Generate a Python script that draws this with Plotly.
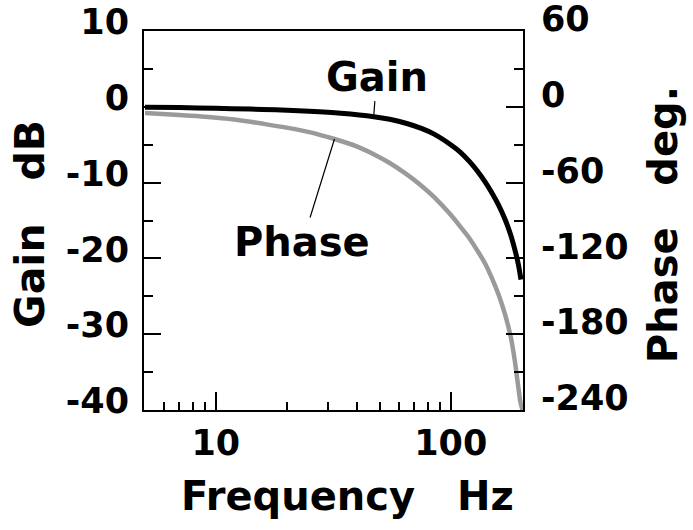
import numpy as np
import plotly.graph_objects as go

# ---- data ----
freq_gain = [5, 7, 10, 14, 18, 25, 34, 47, 55, 65, 75, 85, 100, 110, 120, 130, 140, 150, 160, 170,
             180, 188, 194, 199]
gain_db = [-0.05, -0.1, -0.2, -0.3, -0.4, -0.6, -0.86, -1.3, -1.65, -2.2, -2.85, -3.6, -5.0, -6.0,
           -7.2, -8.5, -9.9, -11.4, -13.0, -14.8, -16.9, -19.0, -20.8, -22.8]

freq_phase = [5, 7, 9, 12, 16, 20, 25, 32, 40, 47, 55, 65, 75, 85, 100, 110, 120, 130, 140, 150,
              160, 170, 180, 187, 193, 198, 202]
phase_deg = [-5, -6.5, -7.8, -10, -13.5, -16.5, -20, -25.5, -31.5, -37.5, -44.5, -53.5, -62.5, -71.5,
             -85.5, -95, -104, -114, -124, -136, -149, -164, -182, -200, -219, -234, -240]

x_major = [10, 100]
x_major_text = ["10", "100"]
x_minor = [6, 7, 8, 9, 20, 30, 40, 50, 60, 70, 80, 90]
gain_major = [-40, -30, -20, -10, 0, 10]
gain_major_text = ["-40", "-30", "-20", "-10", "0", "10"]
gain_minor = [-35, -25, -15, -5, 5]
phase_major = [-240, -180, -120, -60, 0, 60]
phase_major_text = ["-240", "-180", "-120", "-60", "0", "60"]
phase_minor = [-210, -150, -90, -30, 30]

FONT = "DejaVu Sans"

fig = go.Figure()
fig.add_trace(go.Scatter(x=freq_phase, y=phase_deg, yaxis="y2", mode="lines",
                         line=dict(color="#9a9a9a", width=4.5, shape="spline", smoothing=0.8),
                         showlegend=False))
fig.add_trace(go.Scatter(x=freq_gain, y=gain_db, mode="lines",
                         line=dict(color="black", width=5, shape="spline", smoothing=0.8),
                         showlegend=False))

axis_common = dict(showgrid=False, zeroline=False, showline=True, linecolor="black", linewidth=2,
                   ticks="inside", tickcolor="black", tickwidth=2, automargin=False,
                   ticklabeloverflow="allow",
                   tickfont=dict(family=FONT, size=35, color="black", weight="bold"))

fig.update_layout(
    width=693, height=530,
    margin=dict(l=144, r=170, t=31, b=120),
    paper_bgcolor="white", plot_bgcolor="white",
    font=dict(family=FONT, color="black", weight="bold"),
    xaxis=dict(type="log", range=[np.log10(4.95), np.log10(203)], tickmode="array",
               tickvals=x_major, ticktext=x_major_text, ticklen=18, mirror=True,
               ticklabelstandoff=1,
               minor=dict(tickmode="array", tickvals=x_minor, ticks="inside", ticklen=8,
                          tickwidth=2, tickcolor="black", showgrid=False),
               **axis_common),
    yaxis=dict(range=[-40, 10], tickmode="array", tickvals=gain_major, ticktext=gain_major_text,
               ticklen=17, ticklabelstandoff=6, ticklabelshift=-9,
               minor=dict(tickmode="array", tickvals=gain_minor, ticks="inside", ticklen=9,
                          tickwidth=2, tickcolor="black", showgrid=False),
               **axis_common),
    yaxis2=dict(range=[-240, 60], overlaying="y", side="right", tickmode="array",
                tickvals=phase_major, ticktext=phase_major_text, ticklen=17,
                ticklabelstandoff=9, ticklabelshift=-12,
                minor=dict(tickmode="array", tickvals=phase_minor, ticks="inside", ticklen=9,
                           tickwidth=2, tickcolor="black", showgrid=False),
                **axis_common),
)

# curve labels with leader lines
fig.add_annotation(x=np.log10(47), y=-1.3, xref="x", yref="y", text="Gain",
                   showarrow=True, arrowhead=0, arrowwidth=1.2, arrowcolor="black",
                   ax=3, ay=-40, font=dict(family=FONT, size=40, color="black", weight="bold"))
fig.add_annotation(x=np.log10(32), y=-25.5, xref="x", yref="y2", text="Phase",
                   showarrow=True, arrowhead=0, arrowwidth=1.2, arrowcolor="black",
                   ax=-32, ay=103, font=dict(family=FONT, size=40, color="black", weight="bold"))

# axis titles
fig.add_annotation(x=0.537, y=-0.227, xref="paper", yref="paper", text="Frequency   Hz",
                   showarrow=False, xanchor="center", yanchor="middle",
                   font=dict(family=FONT, size=40, color="black", weight="bold"))
fig.add_annotation(x=-0.299, y=0.49, xref="paper", yref="paper", text="Gain   dB",
                   textangle=-90, showarrow=False, xanchor="center", yanchor="middle",
                   font=dict(family=FONT, size=41, color="black", weight="bold"))
fig.add_annotation(x=1.369, y=0.49, xref="paper", yref="paper", text="Phase   deg.",
                   textangle=-90, showarrow=False, xanchor="center", yanchor="middle",
                   font=dict(family=FONT, size=40, color="black", weight="bold"))

fig.write_html("out.html")
